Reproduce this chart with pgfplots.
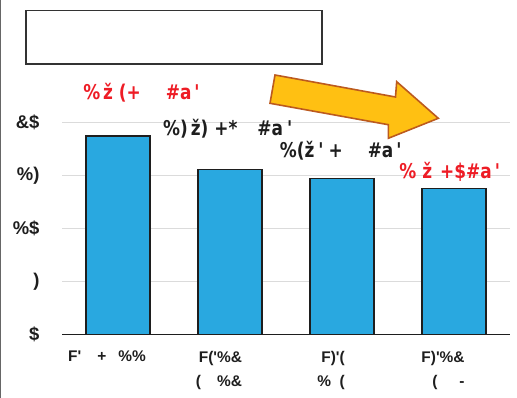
\documentclass[border=0pt]{standalone}
\usepackage{fontspec}
\usepackage{graphicx}
\usepackage{pgfplots}
\pgfplotsset{compat=1.18}
\newfontfamily\lab{Liberation Sans}
\newfontfamily\vlab{DejaVu Sans}
\newcommand\tall[1]{\scalebox{1}[1.2]{#1}}
\definecolor{barblue}{HTML}{29A8E0}
\definecolor{arrowfill}{HTML}{FFC012}
\definecolor{arrowedge}{HTML}{BC5A1E}
\definecolor{labred}{HTML}{EE1C25}
\definecolor{ink}{HTML}{1E1E1E}
\begin{document}
\begin{tikzpicture}
\useasboundingbox (0,0) rectangle (517bp,-398bp);
\fill[white] (0,0) rectangle (517bp,-398bp);
% left frame edge
\draw[black!60, line width=1.3bp] (0.65bp,0) -- (0.65bp,-398bp);
% empty title box
\draw[line width=1.5bp, draw=black!80, fill=white] (26bp,-10.7bp) rectangle (322bp,-64bp);
\begin{axis}[
  at={(62bp,-334.5bp)}, anchor=south west,
  scale only axis, width=448bp, height=264.75bp,
  xmin=-0.5, xmax=3.5, ymin=0, ymax=25,
  axis x line*=bottom, axis y line*=left,
  x axis line style={-, line width=1.6bp, draw=ink},
  y axis line style={draw=none},
  major tick length=0,
  ytick={0,5,10,15,20},
  yticklabels={\$,)\hspace{5bp},\%\$,\%)\hspace{4bp},\&\$},
  yticklabel style={xshift=-19bp, font=\lab\bfseries\fontsize{18.5}{22}\selectfont},
  ymajorgrids, grid style={draw=black!14, line width=1bp},
  xtick={0,1,2,3},
  xticklabels={{F'\hspace{16bp}+\hspace{12bp}\%\%},
               {F('\%\&\\(\hspace{16bp}\%\&},
               {F)'(\\\% \ (},
               {F)'\%\&\\(\hspace{22bp}-}},
  xticklabel style={align=right, xshift=-11bp, yshift=-13bp, font=\lab\bfseries\fontsize{15.5}{24}\selectfont},
  ticklabel style={text=ink},
  ybar, bar width=64bp, clip=false,
]
\addplot[fill=barblue, draw=ink, line width=1.5bp] coordinates {(0,18.74) (1,15.6) (2,14.75) (3,13.8)};
\begin{scope}[every node/.style={inner sep=0pt, anchor=base west, font=\vlab\bfseries\fontsize{17}{22}\selectfont}]
\node[text=labred] at (axis cs:-0.312,22.2) {\tall{\%\,ž\hspace{6bp}(+\hspace{25bp}\#a\hspace{3bp}'}};
\node[text=ink]    at (axis cs:0.401,18.77) {\tall{\%)\hspace{3bp}ž)\hspace{6bp}+*\hspace{20bp}\#a\hspace{4bp}'}};
\node[text=ink]    at (axis cs:1.443,16.73) {\tall{\%(ž\hspace{4bp}'\hspace{5bp}+\hspace{25bp}\#a\hspace{3bp}'}};
\node[text=labred] at (axis cs:2.511,14.75) {\tall{\%\hspace{6bp}ž\hspace{8bp}+\$\#a\hspace{3bp}'}};
\end{scope}
\end{axis}
% decorative arrow
\begin{scope}[x=1bp, y=-1bp]
\draw[fill=arrowfill, draw=arrowedge, line width=1.6bp, line join=miter]
  (275,75) -- (395.5,97) -- (396.7,81.7) -- (438.3,118.3) -- (388.3,138.3) -- (388.3,124.7) -- (270,103.3) -- cycle;
\end{scope}
\end{tikzpicture}
\end{document}
